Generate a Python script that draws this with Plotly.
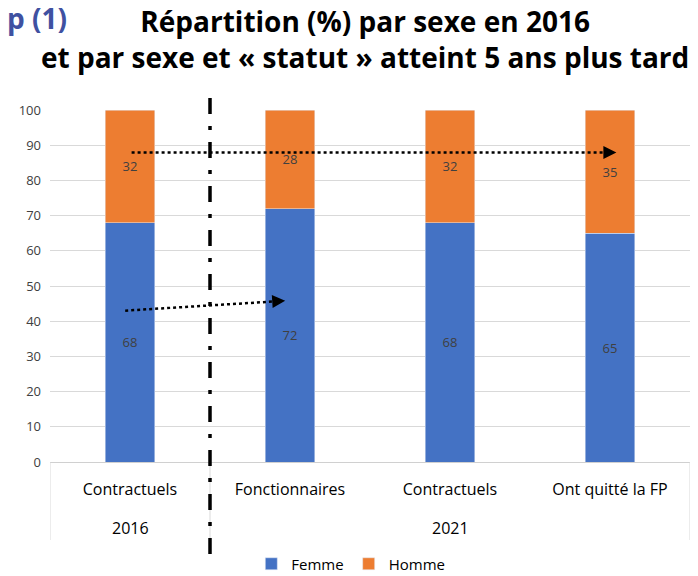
import plotly.graph_objects as go

years = ["2016", "2021"]
year_span = [(0, 0), (1, 3)]  # first / last category of each year group
statuts = ["Contractuels", "Fonctionnaires", "Contractuels", "Ont quitté la FP"]
femme = [68, 72, 68, 65]
homme = [32, 28, 32, 35]

blue = "#4472C4"
orange = "#ED7D31"
font = "Open Sans"
pos = list(range(len(statuts)))

# plot area in pixels: x 50..690, y 110..462
def py(y_px):
    return (462 - y_px) / 352

fig = go.Figure()
fig.add_trace(go.Bar(x=pos, y=femme, name="Femme", marker_color=blue, width=0.31,
                     text=femme, textposition="inside", insidetextanchor="middle",
                     textfont=dict(color="#404040", size=13), textangle=0))
fig.add_trace(go.Bar(x=pos, y=homme, name="Homme", marker_color=orange, width=0.31,
                     text=homme, textposition="inside", insidetextanchor="middle",
                     textfont=dict(color="#404040", size=13), textangle=0))

# group labels and dividers under the axis
for yr, (a, b) in zip(years, year_span):
    fig.add_annotation(text=yr, x=(a + b) / 2, xref="x", y=py(528), yref="paper", yanchor="middle",
                       showarrow=False, font=dict(size=16, color="black"))
for xd in [-0.5, 0.5, 3.5]:
    fig.add_shape(type="line", xref="x", yref="paper", x0=xd, x1=xd, y0=0, y1=py(540),
                  line=dict(color="#d9d9d9", width=1))

# separation 2016 / 2021
fig.add_shape(type="line", xref="x", yref="paper", x0=0.5, x1=0.5, y0=py(554), y1=py(89),
              line=dict(color="black", width=3.5, dash="16px,12px,4px,12px"))

# dotted arrows
arrows = [(-0.03, 43, 0.97, 45.8), (0.01, 87.9, 3.04, 87.9)]
for x0, y0, x1, y1 in arrows:
    k = (y1 - y0) / (x1 - x0)
    fig.add_shape(type="line", xref="x", yref="y", x0=x0, y0=y0, x1=x1 - 0.05, y1=y1 - k * 0.05,
                  line=dict(color="black", width=2.5, dash="dot"))
    fig.add_annotation(x=x1, y=y1, xref="x", yref="y", axref="x", ayref="y",
                       ax=x1 - 0.06, ay=y1 - k * 0.06,
                       text="", showarrow=True, arrowhead=2, arrowsize=1.3, arrowwidth=2,
                       arrowcolor="black", standoff=0)

fig.add_annotation(text="<b>Répartition (%) par sexe en 2016<br>et par sexe et « statut » atteint 5 ans plus tard</b>",
                   xref="paper", yref="paper", x=(365 - 50) / 640, y=py(39), yanchor="middle",
                   showarrow=False, font=dict(family=font, size=28, color="black"))
fig.add_annotation(text="<b>p (1)</b>", xref="paper", yref="paper", xanchor="right",
                   x=(69 - 50) / 640, y=py(18), yanchor="middle", showarrow=False,
                   font=dict(family=font, size=28, color="#3f51a1"))

fig.update_layout(
    barmode="stack",
    width=698, height=576,
    margin=dict(l=50, r=8, t=110, b=114, autoexpand=False),
    plot_bgcolor="white", paper_bgcolor="white",
    font=dict(family=font, color="#404040"),
    showlegend=True,
    legend=dict(orientation="h", x=0.47, xanchor="center", y=py(564), yanchor="middle",
                font=dict(size=15, color="black"), traceorder="normal"),
)
fig.update_yaxes(range=[0, 100], dtick=10, gridcolor="#d9d9d9", gridwidth=1,
                 tickfont=dict(size=13, color="#404040"), zeroline=False, ticks="",
                 ticklabelstandoff=8, automargin=False)
fig.update_xaxes(range=[-0.5, 3.5], tickvals=pos, ticktext=statuts, showgrid=False,
                 zeroline=False, showline=True, linecolor="#d0d0d0", linewidth=1,
                 ticks="", ticklabelstandoff=13, automargin=False,
                 tickfont=dict(size=16, color="black"))

# the page body has a default 8px margin: drop it so the figure fills the window
fig.write_html("out.html", config={"displayModeBar": False},
               post_script="document.body.style.margin='0';")
